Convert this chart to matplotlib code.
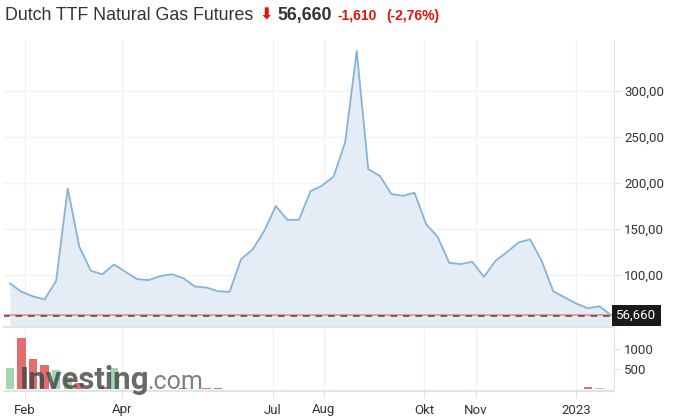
import numpy as np
import pandas as pd
import matplotlib
matplotlib.use('Agg')
import matplotlib.pyplot as plt
import matplotlib.transforms as mtransforms
from matplotlib.ticker import FuncFormatter

# weekly closes, Dutch TTF (EUR/MWh)
week_start = '2022-01-23'
prices = [91, 82, 77, 73.6, 94, 194, 131, 104.7, 101, 111.6, 103.6, 95.7, 94.6, 99,
          101, 96.7, 87.7, 86.6, 82.6, 81.9, 117.4, 128, 148, 175, 160, 160, 191, 197,
          207, 244, 343, 215, 207.6, 188, 186, 189.5, 155.4, 141.6, 113.4, 112, 114.5,
          98.2, 115.5, 125, 135.5, 138.8, 115.5, 82.6, 75.8, 69.2, 64.1, 66.3, 56.66]
volume = [540, 1280, 760, 610, 480, 300, 150, 20, 50, 530, 0, 0, 0, 0,
          0, 45, 0, 45, 45, 0, 0, 0, 0, 0, 0, 0, 0, 0,
          0, 0, 0, 0, 0, 0, 0, 0, 0, 0, 0, 0, 0,
          0, 0, 0, 0, 0, 0, 0, 0, 0, 50, 25, 0]
tick_dates = ['2022-02-01', '2022-04-01', '2022-07-01', '2022-08-01',
              '2022-10-01', '2022-11-01', '2023-01-01']
tick_labels = ['Feb', 'Apr', 'Jul', 'Aug', 'Okt', 'Nov', '2023']
last_price = '56,660'
change = '-1,610'
change_pct = '(-2,76%)'

dates = pd.date_range(week_start, periods=len(prices), freq='7D')
prices = np.array(prices)
volume = np.array(volume)
up = np.r_[True, prices[1:] >= prices[:-1]]

W, H = 674, 420
fig = plt.figure(figsize=(W / 100, H / 100), dpi=100)
ax = fig.add_axes([4 / W, 93 / H, 610 / W, 287 / H])
axv = fig.add_axes([4 / W, 29 / H, 610 / W, 62 / H], sharex=ax)

line_c = '#86b3d8'
fill_c = '#e4edf5'
grid_c = '#f1f2f4'
spine_c = '#dfe3ea'
txt_c = '#333333'

ymin = 43.8
ax.fill_between(dates, prices, ymin, color=fill_c, lw=0, zorder=1)
ax.plot(dates, prices, color=line_c, lw=1.3, zorder=3)
ax.axhline(prices[-1], color='#f08a8a', lw=1.2, zorder=4)
off = mtransforms.offset_copy(ax.transData, fig=fig, x=0, y=-1.2, units='dots')
ax.plot([dates[0] - pd.Timedelta(days=4), dates[-1] + pd.Timedelta(days=2)],
        [prices[-1], prices[-1]], color='#555555', lw=1.2, ls=(0, (4, 3.5)),
        transform=off, zorder=5)

ax.set_ylim(ymin, 355)
ax.set_xlim(dates[0] - pd.Timedelta(days=3.6), dates[-1] + pd.Timedelta(days=1.8))
ax.set_yticks([100, 150, 200, 250, 300])
ax.yaxis.set_major_formatter(FuncFormatter(lambda v, p: f'{v:.2f}'.replace('.', ',')))
ax.yaxis.tick_right()
ax.grid(True, color=grid_c, lw=1, zorder=0)
ax.set_axisbelow(True)

xt = pd.to_datetime(tick_dates)
for a in (ax, axv):
    for s in ('top', 'left'):
        a.spines[s].set_visible(False)
    a.spines['right'].set_color(spine_c)
    a.spines['bottom'].set_color(spine_c)
    a.spines['bottom'].set_linewidth(1.5)
    a.tick_params(colors=spine_c, labelcolor=txt_c, labelsize=9.5, length=4)
    a.set_xticks(xt)
ax.tick_params(axis='x', length=0, labelbottom=False)

# volume panel
bar_c = np.where(up, '#a3d7b0', '#e36d6d')
axv.bar(dates, volume, width=5, color=bar_c, zorder=2)
axv.set_ylim(-42, 1507)
axv.set_yticks([500, 1000])
axv.yaxis.tick_right()
axv.grid(True, axis='x', color=grid_c, lw=1, zorder=0)
axv.set_xticklabels(tick_labels)
axv.tick_params(axis='x', length=5, pad=4)
for a in (ax, axv):
    for lab in a.get_yticklabels() + a.get_xticklabels():
        lab.set_fontfamily('Roboto')

# last price tag
trans = mtransforms.blended_transform_factory(ax.transAxes, ax.transData)
ax.text(1.004, prices[-1], last_price, transform=trans, ha='left', va='center',
        color='white', fontsize=9.5, family='Roboto', zorder=10, clip_on=False,
        bbox=dict(boxstyle='square,pad=0.3', fc='#1a1a1a', ec='none'))

# watermark
fig.text(20 / W, (H - 389) / H, 'Investing', fontsize=22.5, fontweight='bold',
         family='Roboto', color='#444444', alpha=0.8, ha='left', va='baseline')
fig.text(147 / W, (H - 389) / H, '.com', fontsize=18, family='Roboto',
         color='#555555', alpha=0.75, ha='left', va='baseline')

# header
base = (H - 20) / H
fig.text(5 / W, base, 'Dutch TTF Natural Gas Futures', fontsize=12.8,
         family='Liberation Sans', color='#333333', va='baseline')
fig.text(260 / W, base, '\u2b07', fontsize=11.5, family='DejaVu Sans', fontweight='bold',
         color='#e3120b', va='baseline')
fig.text(277 / W, base, last_price, fontsize=12.8, family='Liberation Sans',
         fontweight='bold', color='#333333', va='baseline')
fig.text(338 / W, base, change, fontsize=10, family='Liberation Sans',
         fontweight='bold', color='#e3120b', va='baseline')
fig.text(386 / W, base, change_pct, fontsize=10, family='Liberation Sans',
         fontweight='bold', color='#e3120b', va='baseline')

fig.savefig('out.png', dpi=100)
